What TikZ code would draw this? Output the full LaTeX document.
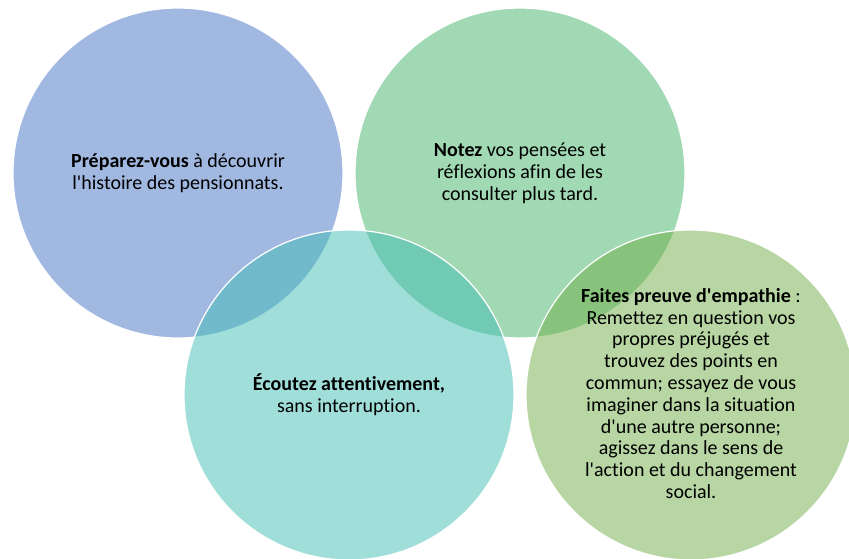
\documentclass[tikz,border=0pt]{standalone}
\usepackage{fontspec}
\newfontfamily\vennfont{Carlito}[Ligatures=NoCommon]
\definecolor{vblue}{HTML}{4472C4}
\definecolor{vgreen}{HTML}{41B367}
\definecolor{vteal}{HTML}{41BDB5}
\definecolor{vlime}{HTML}{70AD47}
\begin{document}
\begin{tikzpicture}[x=1pt,y=-1pt,
    venn/.style={circle,minimum size=330pt,inner sep=0pt,outer sep=0pt,
      fill opacity=.5,draw=white,draw opacity=1,line width=1.2pt},
    vtext/.style={align=center,text=black,
      font=\vennfont\fontsize{20}{21.8}\selectfont}]
  \useasboundingbox (0,0) rectangle (849,558);
  \clip (0,0) rectangle (849,558);
  % circles
  \foreach \c/\x/\y/\col in {prep/178/173/vblue, note/520/173/vgreen,
      ecou/349/395/vteal, emp/691/395/vlime}
    \node[venn,fill=\col] (\c) at (\x,\y) {};
  % texts
  \node[vtext] (tprep) at (prep) {\textbf{Préparez-vous} à découvrir\\
    l'histoire des pensionnats.};
  \node[vtext] (tnote) at (note) {\textbf{Notez} vos pensées et\\
    réflexions afin de les\\consulter plus tard.};
  \node[vtext] (tecou) at (ecou) {\textbf{Écoutez attentivement,}\\
    sans interruption.};
  \node[vtext] (temp) at ([yshift=1.5]emp) {\textbf{Faites preuve d'empathie} :\\
    Remettez en question vos\\propres préjugés et\\trouvez des points en\\
    commun; essayez de vous\\imaginer dans la situation\\d'une autre personne;\\
    agissez dans le sens de\\l'action et du changement\\social.};
\end{tikzpicture}
\end{document}
